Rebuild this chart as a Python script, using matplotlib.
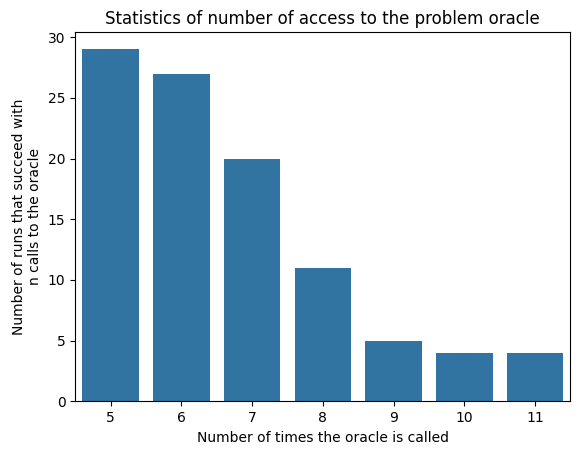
import matplotlib
matplotlib.use("Agg")
import matplotlib.pyplot as plt
import seaborn as sns

calls = [5, 6, 7, 8, 9, 10, 11]
runs = [29, 27, 20, 11, 5, 4, 4]

fig, ax = plt.subplots(figsize=(5.79, 4.55), dpi=100)
sns.barplot(x=calls, y=runs, ax=ax)
ax.set_title("Statistics of number of access to the problem oracle")
ax.set_xlabel("Number of times the oracle is called")
ax.set_ylabel("Number of runs that succeed with\nn calls to the oracle")
fig.subplots_adjust(left=0.13, right=0.985, top=0.93, bottom=0.118)
fig.savefig("out.png", dpi=100)
